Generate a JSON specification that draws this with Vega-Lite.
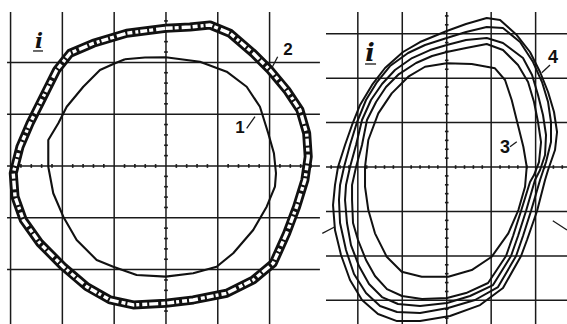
{
  "$schema": "https://vega.github.io/schema/vega-lite/v6.json",
  "padding": 0,
  "spacing": 0,
  "background": "white",
  "config": {"view": {"stroke": null}, "concat": {"spacing": 0}},
  "datasets": {
    "gridL": [
      {"x1": -150, "x2": -150, "y1": 148.6, "y2": -152.5},
      {"x1": -100, "x2": -100, "y1": 148.6, "y2": -152.5},
      {"x1": -50, "x2": -50, "y1": 148.6, "y2": -152.5},
      {"x1": 0, "x2": 0, "y1": 148.6, "y2": -152.5},
      {"x1": 50, "x2": 50, "y1": 148.6, "y2": -152.5},
      {"x1": 100, "x2": 100, "y1": 148.6, "y2": -152.5},
      {"x1": -153.4, "x2": 148.6, "y1": 100, "y2": 100},
      {"x1": -153.4, "x2": 148.6, "y1": 50, "y2": 50},
      {"x1": -153.4, "x2": 148.6, "y1": 0, "y2": 0},
      {"x1": -153.4, "x2": 148.6, "y1": -50, "y2": -50},
      {"x1": -153.4, "x2": 148.6, "y1": -100, "y2": -100}
    ],
    "gridR": [
      {"x1": -100, "x2": -100, "y1": 174.4, "y2": -176.6},
      {"x1": -50, "x2": -50, "y1": 174.4, "y2": -176.6},
      {"x1": 0, "x2": 0, "y1": 174.4, "y2": -176.6},
      {"x1": 50, "x2": 50, "y1": 174.4, "y2": -176.6},
      {"x1": 100, "x2": 100, "y1": 174.4, "y2": -176.6},
      {"x1": -135.8, "x2": 135.3, "y1": 150, "y2": 150},
      {"x1": -135.8, "x2": 135.3, "y1": 100, "y2": 100},
      {"x1": -135.8, "x2": 135.3, "y1": 50, "y2": 50},
      {"x1": -135.8, "x2": 135.3, "y1": 0, "y2": 0},
      {"x1": -135.8, "x2": 135.3, "y1": -50, "y2": -50},
      {"x1": -135.8, "x2": 135.3, "y1": -100, "y2": -100},
      {"x1": -135.8, "x2": 135.3, "y1": -150, "y2": -150}
    ],
    "ticks": [
      {"v": -170}, {"v": -160}, {"v": -140}, {"v": -130}, {"v": -120}, {"v": -110},
      {"v": -90}, {"v": -80}, {"v": -70}, {"v": -60}, {"v": -40}, {"v": -30},
      {"v": -20}, {"v": -10}, {"v": 10}, {"v": 20}, {"v": 30}, {"v": 40},
      {"v": 60}, {"v": 70}, {"v": 80}, {"v": 90}, {"v": 110}, {"v": 120},
      {"v": 130}, {"v": 140}, {"v": 160}, {"v": 170}
    ],
    "curve1": [
      {"i": 1, "x": -39.6, "y": 103.0},
      {"i": 2, "x": -20.3, "y": 104.7},
      {"i": 3, "x": -0.3, "y": 104.9},
      {"i": 4, "x": 32.8, "y": 100.6},
      {"i": 5, "x": 58.6, "y": 91.0},
      {"i": 6, "x": 77.9, "y": 76.5},
      {"i": 7, "x": 90.7, "y": 57.2},
      {"i": 8, "x": 98.7, "y": 31.6},
      {"i": 9, "x": 104.2, "y": 12.3},
      {"i": 10, "x": 106.2, "y": -7.0},
      {"i": 11, "x": 105.2, "y": -20.0},
      {"i": 12, "x": 97.2, "y": -39.3},
      {"i": 13, "x": 84.2, "y": -61.8},
      {"i": 14, "x": 64.9, "y": -84.2},
      {"i": 15, "x": 48.9, "y": -97.2},
      {"i": 16, "x": 26.3, "y": -103.5},
      {"i": 17, "x": -0.3, "y": -106.8},
      {"i": 18, "x": -28.3, "y": -105.2},
      {"i": 19, "x": -50.9, "y": -97.2},
      {"i": 20, "x": -66.9, "y": -90.7},
      {"i": 21, "x": -86.2, "y": -71.4},
      {"i": 22, "x": -99.1, "y": -48.9},
      {"i": 23, "x": -108.8, "y": -26.3},
      {"i": 24, "x": -113.6, "y": -0.7},
      {"i": 25, "x": -113.6, "y": 25.1},
      {"i": 26, "x": -103.9, "y": 41.2},
      {"i": 27, "x": -95.8, "y": 57.2},
      {"i": 28, "x": -79.8, "y": 76.5},
      {"i": 29, "x": -63.7, "y": 92.6},
      {"i": 30, "x": -49.2, "y": 99.1},
      {"i": 31, "x": -39.6, "y": 103.0}
    ],
    "curve2": [
      {"i": 1, "x": -0.3, "y": 132.9},
      {"i": 2, "x": 23.2, "y": 134.1},
      {"i": 3, "x": 42.5, "y": 136.1},
      {"i": 4, "x": 61.8, "y": 128.1},
      {"i": 5, "x": 84.2, "y": 108.8},
      {"i": 6, "x": 100.4, "y": 92.6},
      {"i": 7, "x": 116.5, "y": 73.3},
      {"i": 8, "x": 129.3, "y": 54.0},
      {"i": 9, "x": 135.8, "y": 31.6},
      {"i": 10, "x": 137.3, "y": 9.0},
      {"i": 11, "x": 134.1, "y": -13.5},
      {"i": 12, "x": 126.1, "y": -39.3},
      {"i": 13, "x": 116.5, "y": -64.9},
      {"i": 14, "x": 103.5, "y": -93.9},
      {"i": 15, "x": 84.2, "y": -110.0},
      {"i": 16, "x": 58.6, "y": -122.8},
      {"i": 17, "x": 26.3, "y": -129.3},
      {"i": 18, "x": -0.3, "y": -132.5},
      {"i": 19, "x": -31.6, "y": -134.1},
      {"i": 20, "x": -54.0, "y": -129.3},
      {"i": 21, "x": -76.5, "y": -116.5},
      {"i": 22, "x": -99.1, "y": -97.2},
      {"i": 23, "x": -121.6, "y": -74.6},
      {"i": 24, "x": -137.7, "y": -52.1},
      {"i": 25, "x": -145.7, "y": -29.6},
      {"i": 26, "x": -147.4, "y": -7.0},
      {"i": 27, "x": -140.9, "y": 18.6},
      {"i": 28, "x": -131.2, "y": 41.2},
      {"i": 29, "x": -118.4, "y": 66.9},
      {"i": 30, "x": -105.5, "y": 92.6},
      {"i": 31, "x": -92.6, "y": 108.8},
      {"i": 32, "x": -70.2, "y": 118.4},
      {"i": 33, "x": -37.9, "y": 128.1},
      {"i": 34, "x": -0.3, "y": 132.9}
    ],
    "curvesR": [
      {"t": "3", "i": 1, "x": 0, "y": 116.7},
      {"t": "3", "i": 2, "x": 28.1, "y": 115.9},
      {"t": "3", "i": 3, "x": 54.3, "y": 111.0},
      {"t": "3", "i": 4, "x": 65.6, "y": 97.9},
      {"t": "3", "i": 5, "x": 73.1, "y": 75.4},
      {"t": "3", "i": 6, "x": 80.6, "y": 45.3},
      {"t": "3", "i": 7, "x": 86.2, "y": 22.8},
      {"t": "3", "i": 8, "x": 90.0, "y": 0.3},
      {"t": "3", "i": 9, "x": 88.1, "y": -22.2},
      {"t": "3", "i": 10, "x": 80.6, "y": -48.4},
      {"t": "3", "i": 11, "x": 69.3, "y": -74.6},
      {"t": "3", "i": 12, "x": 50.6, "y": -100.9},
      {"t": "3", "i": 13, "x": 28.1, "y": -115.9},
      {"t": "3", "i": 14, "x": 1.8, "y": -123.4},
      {"t": "3", "i": 15, "x": -28.1, "y": -123.4},
      {"t": "3", "i": 16, "x": -50.6, "y": -117.8},
      {"t": "3", "i": 17, "x": -67.5, "y": -100.9},
      {"t": "3", "i": 18, "x": -80.7, "y": -74.6},
      {"t": "3", "i": 19, "x": -88.2, "y": -48.4},
      {"t": "3", "i": 20, "x": -91.9, "y": -22.2},
      {"t": "3", "i": 21, "x": -91.9, "y": 0.3},
      {"t": "3", "i": 22, "x": -88.2, "y": 30.4},
      {"t": "3", "i": 23, "x": -77.0, "y": 60.4},
      {"t": "3", "i": 24, "x": -61.9, "y": 82.9},
      {"t": "3", "i": 25, "x": -43.2, "y": 101.6},
      {"t": "3", "i": 26, "x": -24.4, "y": 112.8},
      {"t": "3", "i": 27, "x": 0, "y": 116.7},

      {"t": "4a", "i": 1, "x": 0, "y": 153.0},
      {"t": "4a", "i": 2, "x": 21.7, "y": 160.9},
      {"t": "4a", "i": 3, "x": 45.0, "y": 167.6},
      {"t": "4a", "i": 4, "x": 60.0, "y": 165.4},
      {"t": "4a", "i": 5, "x": 78.8, "y": 148.5},
      {"t": "4a", "i": 6, "x": 93.7, "y": 129.4},
      {"t": "4a", "i": 7, "x": 105.0, "y": 106.9},
      {"t": "4a", "i": 8, "x": 114.0, "y": 84.4},
      {"t": "4a", "i": 9, "x": 120.7, "y": 61.9},
      {"t": "4a", "i": 10, "x": 124.1, "y": 39.4},
      {"t": "4a", "i": 11, "x": 121.8, "y": 19.1},
      {"t": "4a", "i": 12, "x": 114.0, "y": -3.4},
      {"t": "4a", "i": 13, "x": 110.6, "y": -14.6},
      {"t": "4a", "i": 14, "x": 101.6, "y": -49.5},
      {"t": "4a", "i": 15, "x": 90.3, "y": -82.1},
      {"t": "4a", "i": 16, "x": 83.6, "y": -100.1},
      {"t": "4a", "i": 17, "x": 63.3, "y": -136.1},
      {"t": "4a", "i": 18, "x": 37.5, "y": -155.3},
      {"t": "4a", "i": 19, "x": 3.7, "y": -167.6},
      {"t": "4a", "i": 20, "x": -30.0, "y": -173.3},
      {"t": "4a", "i": 21, "x": -55.9, "y": -173.3},
      {"t": "4a", "i": 22, "x": -77.3, "y": -165.4},
      {"t": "4a", "i": 23, "x": -95.3, "y": -149.6},
      {"t": "4a", "i": 24, "x": -108.8, "y": -127.1},
      {"t": "4a", "i": 25, "x": -118.9, "y": -99.0},
      {"t": "4a", "i": 26, "x": -125.7, "y": -70.9},
      {"t": "4a", "i": 27, "x": -127.9, "y": -42.8},
      {"t": "4a", "i": 28, "x": -125.7, "y": -20.3},
      {"t": "4a", "i": 29, "x": -122.3, "y": 0},
      {"t": "4a", "i": 30, "x": -114.4, "y": 24.8},
      {"t": "4a", "i": 31, "x": -106.5, "y": 47.3},
      {"t": "4a", "i": 32, "x": -97.5, "y": 69.8},
      {"t": "4a", "i": 33, "x": -84.0, "y": 92.3},
      {"t": "4a", "i": 34, "x": -69.4, "y": 111.4},
      {"t": "4a", "i": 35, "x": -49.2, "y": 129.4},
      {"t": "4a", "i": 36, "x": -30.0, "y": 140.6},
      {"t": "4a", "i": 37, "x": 0, "y": 153.0},

      {"t": "4b", "i": 1, "x": 0, "y": 145.1},
      {"t": "4b", "i": 2, "x": 21.7, "y": 151.9},
      {"t": "4b", "i": 3, "x": 45.0, "y": 157.5},
      {"t": "4b", "i": 4, "x": 63.3, "y": 156.4},
      {"t": "4b", "i": 5, "x": 82.5, "y": 140.6},
      {"t": "4b", "i": 6, "x": 97.1, "y": 118.1},
      {"t": "4b", "i": 7, "x": 107.2, "y": 95.6},
      {"t": "4b", "i": 8, "x": 114.0, "y": 73.1},
      {"t": "4b", "i": 9, "x": 117.3, "y": 50.6},
      {"t": "4b", "i": 10, "x": 117.3, "y": 28.1},
      {"t": "4b", "i": 11, "x": 111.7, "y": 5.6},
      {"t": "4b", "i": 12, "x": 105.0, "y": -14.6},
      {"t": "4b", "i": 13, "x": 94.8, "y": -49.5},
      {"t": "4b", "i": 14, "x": 85.8, "y": -77.6},
      {"t": "4b", "i": 15, "x": 78.0, "y": -100.1},
      {"t": "4b", "i": 16, "x": 57.7, "y": -135.0},
      {"t": "4b", "i": 17, "x": 31.8, "y": -149.6},
      {"t": "4b", "i": 18, "x": 1.5, "y": -158.6},
      {"t": "4b", "i": 19, "x": -30.0, "y": -164.3},
      {"t": "4b", "i": 20, "x": -55.9, "y": -163.1},
      {"t": "4b", "i": 21, "x": -75.0, "y": -156.4},
      {"t": "4b", "i": 22, "x": -90.8, "y": -141.8},
      {"t": "4b", "i": 23, "x": -104.3, "y": -120.4},
      {"t": "4b", "i": 24, "x": -113.3, "y": -93.4},
      {"t": "4b", "i": 25, "x": -120.0, "y": -63.0},
      {"t": "4b", "i": 26, "x": -121.2, "y": -37.1},
      {"t": "4b", "i": 27, "x": -120.0, "y": -20.3},
      {"t": "4b", "i": 28, "x": -115.5, "y": 0},
      {"t": "4b", "i": 29, "x": -108.8, "y": 24.8},
      {"t": "4b", "i": 30, "x": -100.9, "y": 50.6},
      {"t": "4b", "i": 31, "x": -90.8, "y": 75.4},
      {"t": "4b", "i": 32, "x": -78.4, "y": 95.6},
      {"t": "4b", "i": 33, "x": -63.8, "y": 113.6},
      {"t": "4b", "i": 34, "x": -43.5, "y": 128.3},
      {"t": "4b", "i": 35, "x": -24.4, "y": 137.3},
      {"t": "4b", "i": 36, "x": 0, "y": 145.1},

      {"t": "4c", "i": 1, "x": 0, "y": 137.3},
      {"t": "4c", "i": 2, "x": 21.7, "y": 142.9},
      {"t": "4c", "i": 3, "x": 45.0, "y": 145.1},
      {"t": "4c", "i": 4, "x": 63.3, "y": 139.5},
      {"t": "4c", "i": 5, "x": 85.8, "y": 122.6},
      {"t": "4c", "i": 6, "x": 96.0, "y": 103.5},
      {"t": "4c", "i": 7, "x": 102.7, "y": 81.0},
      {"t": "4c", "i": 8, "x": 108.3, "y": 58.5},
      {"t": "4c", "i": 9, "x": 111.7, "y": 36.0},
      {"t": "4c", "i": 10, "x": 110.6, "y": 13.5},
      {"t": "4c", "i": 11, "x": 105.0, "y": -3.4},
      {"t": "4c", "i": 12, "x": 99.3, "y": -14.6},
      {"t": "4c", "i": 13, "x": 89.2, "y": -49.5},
      {"t": "4c", "i": 14, "x": 80.2, "y": -77.6},
      {"t": "4c", "i": 15, "x": 72.3, "y": -100.1},
      {"t": "4c", "i": 16, "x": 52.1, "y": -132.8},
      {"t": "4c", "i": 17, "x": 26.2, "y": -145.1},
      {"t": "4c", "i": 18, "x": 0.3, "y": -153.0},
      {"t": "4c", "i": 19, "x": -30.0, "y": -156.4},
      {"t": "4c", "i": 20, "x": -54.8, "y": -154.1},
      {"t": "4c", "i": 21, "x": -72.8, "y": -146.3},
      {"t": "4c", "i": 22, "x": -87.4, "y": -131.6},
      {"t": "4c", "i": 23, "x": -98.7, "y": -111.4},
      {"t": "4c", "i": 24, "x": -107.7, "y": -87.8},
      {"t": "4c", "i": 25, "x": -112.2, "y": -63.0},
      {"t": "4c", "i": 26, "x": -114.4, "y": -37.1},
      {"t": "4c", "i": 27, "x": -113.3, "y": -20.3},
      {"t": "4c", "i": 28, "x": -108.8, "y": 0},
      {"t": "4c", "i": 29, "x": -102.0, "y": 24.8},
      {"t": "4c", "i": 30, "x": -95.3, "y": 52.9},
      {"t": "4c", "i": 31, "x": -85.2, "y": 75.4},
      {"t": "4c", "i": 32, "x": -72.8, "y": 93.4},
      {"t": "4c", "i": 33, "x": -58.2, "y": 109.1},
      {"t": "4c", "i": 34, "x": -39.0, "y": 122.6},
      {"t": "4c", "i": 35, "x": -18.8, "y": 131.6},
      {"t": "4c", "i": 36, "x": 0, "y": 137.3},

      {"t": "4d", "i": 1, "x": 0, "y": 129.4},
      {"t": "4d", "i": 2, "x": 21.7, "y": 133.9},
      {"t": "4d", "i": 3, "x": 45.0, "y": 138.4},
      {"t": "4d", "i": 4, "x": 63.3, "y": 131.6},
      {"t": "4d", "i": 5, "x": 80.2, "y": 114.8},
      {"t": "4d", "i": 6, "x": 91.5, "y": 95.6},
      {"t": "4d", "i": 7, "x": 98.2, "y": 73.1},
      {"t": "4d", "i": 8, "x": 102.7, "y": 50.6},
      {"t": "4d", "i": 9, "x": 106.1, "y": 28.1},
      {"t": "4d", "i": 10, "x": 103.8, "y": 5.6},
      {"t": "4d", "i": 11, "x": 98.2, "y": -9.0},
      {"t": "4d", "i": 12, "x": 93.7, "y": -16.9},
      {"t": "4d", "i": 13, "x": 83.6, "y": -49.5},
      {"t": "4d", "i": 14, "x": 74.6, "y": -77.6},
      {"t": "4d", "i": 15, "x": 66.7, "y": -100.1},
      {"t": "4d", "i": 16, "x": 46.5, "y": -130.5},
      {"t": "4d", "i": 17, "x": 21.7, "y": -141.8},
      {"t": "4d", "i": 18, "x": 0.3, "y": -147.4},
      {"t": "4d", "i": 19, "x": -27.8, "y": -148.5},
      {"t": "4d", "i": 20, "x": -50.3, "y": -145.1},
      {"t": "4d", "i": 21, "x": -67.2, "y": -137.3},
      {"t": "4d", "i": 22, "x": -80.7, "y": -122.6},
      {"t": "4d", "i": 23, "x": -90.8, "y": -104.6},
      {"t": "4d", "i": 24, "x": -99.8, "y": -82.1},
      {"t": "4d", "i": 25, "x": -105.4, "y": -63.0},
      {"t": "4d", "i": 26, "x": -106.5, "y": -37.1},
      {"t": "4d", "i": 27, "x": -106.5, "y": -20.3},
      {"t": "4d", "i": 28, "x": -102.0, "y": 0},
      {"t": "4d", "i": 29, "x": -95.3, "y": 24.8},
      {"t": "4d", "i": 30, "x": -89.7, "y": 52.9},
      {"t": "4d", "i": 31, "x": -79.5, "y": 73.1},
      {"t": "4d", "i": 32, "x": -68.3, "y": 90.0},
      {"t": "4d", "i": 33, "x": -53.7, "y": 104.6},
      {"t": "4d", "i": 34, "x": -34.5, "y": 117.0},
      {"t": "4d", "i": 35, "x": -16.5, "y": 124.9},
      {"t": "4d", "i": 36, "x": 0, "y": 129.4}
    ],
    "annL": [
      {"x1": -128.3, "y1": 111.0, "x2": -118.7, "y2": 111.0},
      {"x1": 77.9, "y1": 36.4, "x2": 85.9, "y2": 47.6},
      {"x1": 107.8, "y1": 105.5, "x2": 102.0, "y2": 94.3}
    ],
    "annR": [
      {"x1": -91.9, "y1": 115.9, "x2": -79.5, "y2": 115.9},
      {"x1": 71.2, "y1": 22.8, "x2": 78.8, "y2": 28.5},
      {"x1": 116.2, "y1": 114.8, "x2": 106.9, "y2": 106.1},
      {"x1": -140.0, "y1": -74.6, "x2": -125.7, "y2": -67.2},
      {"x1": 119.3, "y1": -60.4, "x2": 135.3, "y2": -70.9}
    ],
    "numL": [
      {"x": 71.4, "y": 31.8, "label": "1"},
      {"x": 117.7, "y": 107.1, "label": "2"}
    ],
    "numR": [
      {"x": 65.6, "y": 15.8, "label": "3"},
      {"x": 119.6, "y": 117.0, "label": "4"}
    ],
    "symL": [{"x": -122.6, "y": 113.9, "label": "i"}],
    "symR": [{"x": -86.3, "y": 119.3, "label": "i"}]
  },
  "hconcat": [
    {
      "width": 322,
      "height": 324,
      "layer": [
        {
          "data": {"name": "gridL"},
          "mark": {"type": "rule", "color": "#1a1a1a", "strokeWidth": 1.5, "clip": true},
          "encoding": {
            "x": {"field": "x1", "type": "quantitative", "axis": null, "scale": {"domain": [-160.2, 150.6], "nice": false, "zero": false}},
            "x2": {"field": "x2"},
            "y": {"field": "y1", "type": "quantitative", "axis": null, "scale": {"domain": [-152.5, 160.2], "nice": false, "zero": false}},
            "y2": {"field": "y2"}
          }
        },
        {
          "data": {"name": "ticks"},
          "transform": [{"filter": "abs(datum.v) <= 140"}],
          "mark": {"type": "rule", "color": "#1a1a1a", "strokeWidth": 1.6, "clip": true},
          "encoding": {
            "x": {"field": "v", "type": "quantitative", "axis": null, "scale": {"domain": [-160.2, 150.6], "nice": false, "zero": false}},
            "x2": {"field": "v"},
            "y": {"datum": -1.8, "type": "quantitative", "axis": null, "scale": {"domain": [-152.5, 160.2], "nice": false, "zero": false}},
            "y2": {"datum": 1.8}
          }
        },
        {
          "data": {"name": "ticks"},
          "transform": [{"filter": "abs(datum.v) <= 140"}],
          "mark": {"type": "rule", "color": "#1a1a1a", "strokeWidth": 1.6, "clip": true},
          "encoding": {
            "y": {"field": "v", "type": "quantitative", "axis": null, "scale": {"domain": [-152.5, 160.2], "nice": false, "zero": false}},
            "y2": {"field": "v"},
            "x": {"datum": -1.8, "type": "quantitative", "axis": null, "scale": {"domain": [-160.2, 150.6], "nice": false, "zero": false}},
            "x2": {"datum": 1.8}
          }
        },
        {
          "data": {"name": "curve1"},
          "mark": {"type": "line", "color": "#111111", "strokeWidth": 2.1, "clip": true, "strokeJoin": "round"},
          "encoding": {
            "x": {"field": "x", "type": "quantitative", "axis": null, "scale": {"domain": [-160.2, 150.6], "nice": false, "zero": false}},
            "y": {"field": "y", "type": "quantitative", "axis": null, "scale": {"domain": [-152.5, 160.2], "nice": false, "zero": false}},
            "order": {"field": "i", "type": "quantitative"}
          }
        },
        {
          "data": {"name": "curve2"},
          "mark": {"type": "line", "color": "#111111", "strokeWidth": 9, "clip": true, "strokeJoin": "round"},
          "encoding": {
            "x": {"field": "x", "type": "quantitative", "axis": null, "scale": {"domain": [-160.2, 150.6], "nice": false, "zero": false}},
            "y": {"field": "y", "type": "quantitative", "axis": null, "scale": {"domain": [-152.5, 160.2], "nice": false, "zero": false}},
            "order": {"field": "i", "type": "quantitative"}
          }
        },
        {
          "data": {"name": "curve2"},
          "mark": {"type": "line", "color": "#ffffff", "strokeWidth": 3.4, "strokeDash": [7, 2, 4, 3, 9, 2, 5, 3, 3, 2], "clip": true, "strokeJoin": "round"},
          "encoding": {
            "x": {"field": "x", "type": "quantitative", "axis": null, "scale": {"domain": [-160.2, 150.6], "nice": false, "zero": false}},
            "y": {"field": "y", "type": "quantitative", "axis": null, "scale": {"domain": [-152.5, 160.2], "nice": false, "zero": false}},
            "order": {"field": "i", "type": "quantitative"}
          }
        },
        {
          "data": {"name": "annL"},
          "mark": {"type": "rule", "color": "#1a1a1a", "strokeWidth": 1.3, "clip": true},
          "encoding": {
            "x": {"field": "x1", "type": "quantitative", "axis": null, "scale": {"domain": [-160.2, 150.6], "nice": false, "zero": false}},
            "x2": {"field": "x2"},
            "y": {"field": "y1", "type": "quantitative", "axis": null, "scale": {"domain": [-152.5, 160.2], "nice": false, "zero": false}},
            "y2": {"field": "y2"}
          }
        },
        {
          "data": {"name": "numL"},
          "mark": {"type": "text", "font": "Liberation Sans", "fontWeight": "bold", "fontSize": 17, "color": "#111111", "align": "center", "baseline": "alphabetic"},
          "encoding": {
            "x": {"field": "x", "type": "quantitative", "axis": null, "scale": {"domain": [-160.2, 150.6], "nice": false, "zero": false}},
            "y": {"field": "y", "type": "quantitative", "axis": null, "scale": {"domain": [-152.5, 160.2], "nice": false, "zero": false}},
            "text": {"field": "label"}
          }
        },
        {
          "data": {"name": "symL"},
          "mark": {"type": "text", "font": "DejaVu Serif", "fontStyle": "italic", "fontWeight": "bold", "fontSize": 21, "color": "#111111", "align": "center", "baseline": "alphabetic"},
          "encoding": {
            "x": {"field": "x", "type": "quantitative", "axis": null, "scale": {"domain": [-160.2, 150.6], "nice": false, "zero": false}},
            "y": {"field": "y", "type": "quantitative", "axis": null, "scale": {"domain": [-152.5, 160.2], "nice": false, "zero": false}},
            "text": {"field": "label"}
          }
        }
      ]
    },
    {
      "width": 245,
      "height": 324,
      "layer": [
        {
          "data": {"name": "gridR"},
          "mark": {"type": "rule", "color": "#1a1a1a", "strokeWidth": 1.5, "clip": true},
          "encoding": {
            "x": {"field": "x1", "type": "quantitative", "axis": null, "scale": {"domain": [-140.3, 135.3], "nice": false, "zero": false}},
            "x2": {"field": "x2"},
            "y": {"field": "y1", "type": "quantitative", "axis": null, "scale": {"domain": [-176.6, 187.9], "nice": false, "zero": false}},
            "y2": {"field": "y2"}
          }
        },
        {
          "data": {"name": "ticks"},
          "transform": [{"filter": "abs(datum.v) <= 130"}],
          "mark": {"type": "rule", "color": "#1a1a1a", "strokeWidth": 1.6, "clip": true},
          "encoding": {
            "x": {"field": "v", "type": "quantitative", "axis": null, "scale": {"domain": [-140.3, 135.3], "nice": false, "zero": false}},
            "x2": {"field": "v"},
            "y": {"datum": -2.0, "type": "quantitative", "axis": null, "scale": {"domain": [-176.6, 187.9], "nice": false, "zero": false}},
            "y2": {"datum": 2.0}
          }
        },
        {
          "data": {"name": "ticks"},
          "mark": {"type": "rule", "color": "#1a1a1a", "strokeWidth": 1.6, "clip": true},
          "encoding": {
            "y": {"field": "v", "type": "quantitative", "axis": null, "scale": {"domain": [-176.6, 187.9], "nice": false, "zero": false}},
            "y2": {"field": "v"},
            "x": {"datum": -2.0, "type": "quantitative", "axis": null, "scale": {"domain": [-140.3, 135.3], "nice": false, "zero": false}},
            "x2": {"datum": 2.0}
          }
        },
        {
          "data": {"name": "curvesR"},
          "mark": {"type": "line", "color": "#111111", "strokeWidth": 2.0, "clip": true, "strokeJoin": "round"},
          "encoding": {
            "x": {"field": "x", "type": "quantitative", "axis": null, "scale": {"domain": [-140.3, 135.3], "nice": false, "zero": false}},
            "y": {"field": "y", "type": "quantitative", "axis": null, "scale": {"domain": [-176.6, 187.9], "nice": false, "zero": false}},
            "detail": {"field": "t"},
            "order": {"field": "i", "type": "quantitative"}
          }
        },
        {
          "data": {"name": "annR"},
          "mark": {"type": "rule", "color": "#1a1a1a", "strokeWidth": 1.3, "clip": true},
          "encoding": {
            "x": {"field": "x1", "type": "quantitative", "axis": null, "scale": {"domain": [-140.3, 135.3], "nice": false, "zero": false}},
            "x2": {"field": "x2"},
            "y": {"field": "y1", "type": "quantitative", "axis": null, "scale": {"domain": [-176.6, 187.9], "nice": false, "zero": false}},
            "y2": {"field": "y2"}
          }
        },
        {
          "data": {"name": "numR"},
          "mark": {"type": "text", "font": "Liberation Sans", "fontWeight": "bold", "fontSize": 18, "color": "#111111", "align": "center", "baseline": "alphabetic"},
          "encoding": {
            "x": {"field": "x", "type": "quantitative", "axis": null, "scale": {"domain": [-140.3, 135.3], "nice": false, "zero": false}},
            "y": {"field": "y", "type": "quantitative", "axis": null, "scale": {"domain": [-176.6, 187.9], "nice": false, "zero": false}},
            "text": {"field": "label"}
          }
        },
        {
          "data": {"name": "symR"},
          "mark": {"type": "text", "font": "DejaVu Serif", "fontStyle": "italic", "fontWeight": "bold", "fontSize": 25, "color": "#111111", "align": "center", "baseline": "alphabetic"},
          "encoding": {
            "x": {"field": "x", "type": "quantitative", "axis": null, "scale": {"domain": [-140.3, 135.3], "nice": false, "zero": false}},
            "y": {"field": "y", "type": "quantitative", "axis": null, "scale": {"domain": [-176.6, 187.9], "nice": false, "zero": false}},
            "text": {"field": "label"}
          }
        }
      ]
    }
  ]
}
